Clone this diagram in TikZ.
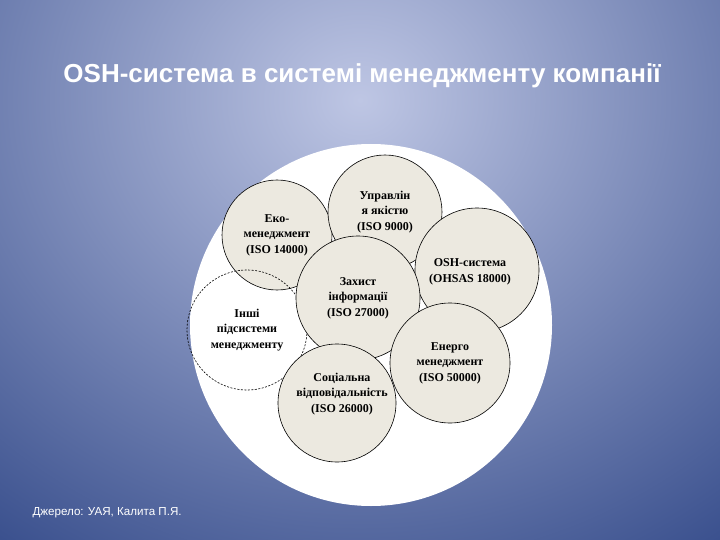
\documentclass[tikz,border=0pt]{standalone}
\usepackage{fontspec}
\setmainfont{Liberation Serif}
\newfontfamily\arialf{Liberation Sans}
\definecolor{beige}{RGB}{236,233,224}
\begin{document}
\begin{tikzpicture}[x=1pt,y=-1pt,
  sub/.style={circle,draw=black,line width=0.6pt,fill=beige,minimum size=#1,inner sep=0pt,align=center,font=\fontsize{12}{15.5}\selectfont\bfseries},
  lab/.style={align=center,font=\fontsize{12}{15.5}\selectfont\bfseries}]
\useasboundingbox (0,0) rectangle (720,540);
\shade[inner color={rgb,255:red,190;green,198;blue,228},outer color={rgb,255:red,40;green,64;blue,130}] (-340,-520) rectangle (1060,720);
\fill[white] (371,325) circle (181);
\node[sub=110pt] (eco) at (277,235) {Еко-\\менеджмент\\(ISO 14000)};
\node[sub=114pt] (qual) at (385,212) {Управлін\\я якістю\\(ISO 9000)};
\node[sub=124pt] (osh) at (477,270) {};
\node[lab] at (470,272) {OSH-система\\(OHSAS 18000)};
\node[circle,draw=black,dash pattern=on 2pt off 1.5pt,line width=0.6pt,minimum size=120pt,inner sep=0pt,align=center,font=\fontsize{12}{15.5}\selectfont\bfseries] (oth) at (247,330) {Інші\\підсистеми\\менеджменту};
\node[sub=124pt] (inf) at (358,298) {Захист\\інформації\\(ISO 27000)};
\node[sub=120pt] (en) at (450,363) {Енерго\\менеджмент\\(ISO 50000)};
\node[sub=118pt] (soc) at (337,403) {};
\node[lab] at (342,394) {Соціальна\\відповідальність\\(ISO 26000)};
\node[font=\arialf\bfseries\fontsize{26}{30}\selectfont,text=white] (title) at (362,76) {OSH-система в системі менеджменту компанії};
\node[font=\arialf\fontsize{11.6}{14}\selectfont,text=white,anchor=west] (src) at (29,513) {Джерело: УАЯ, Калита П.Я.};
\end{tikzpicture}
\end{document}
